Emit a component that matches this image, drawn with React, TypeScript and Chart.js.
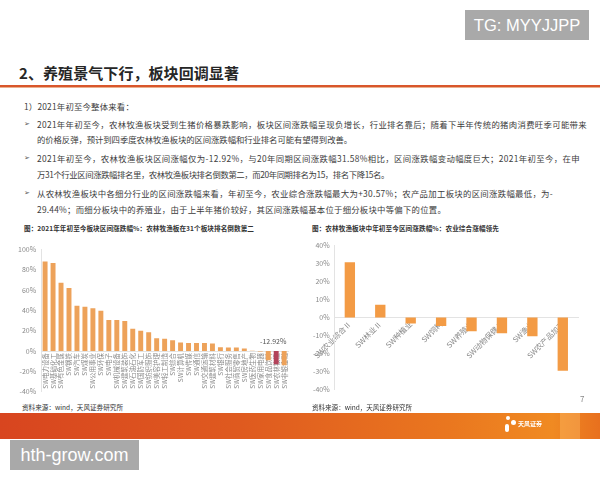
import React, { useEffect, useLayoutEffect, useRef } from "react";
import { Chart, registerables } from "chart.js";

Chart.register(...registerables);

const leftCategories = [
  "SW电力设备", "SW基础化工", "SW有色金属", "SW钢铁", "SW汽车", "SW煤炭", "SW公用事业", "SW环保",
  "SW电子", "SW机械设备", "SW建筑装饰", "SW石油石化", "SW国防军工", "SW纺织服饰", "SW美容护理",
  "SW轻工制造", "SW综合", "SW计算机", "SW传媒", "SW通信", "SW交通运输", "SW建筑材料", "SW银行",
  "SW社会服务", "SW商贸零售", "SW房地产", "SW医药生物", "SW家用电器", "SW食品饮料", "SW农林牧渔", "SW非银金融",
];
const leftValues = [
  88, 86.5, 67, 62, 44.5, 43.5, 42, 39.5, 30.5, 30.5, 29.5, 22, 20, 18.5, 12.5, 12, 10.5,
  8.5, 8, 8, 8, 7.5, 3.8, 3.5, 3.5, 2.5, 0.3, -0.5, -9, -12.92, -14,
];
const highlightCategory = "SW农林牧渔";
const highlightLabel = "-12.92%";

const rightCategories = [
  "SW农业综合Ⅱ", "SW林业Ⅱ", "SW种植业", "SW饲料", "SW养殖业", "SW动物保健Ⅱ", "SW渔业", "SW农产品加工",
];
const rightValues = [30.57, 7, -3.3, -4.7, -7.6, -8.7, -10.4, -29.44];

const leftTicks = { min: -40, max: 100, step: 20 };
const rightTicks = { min: -40, max: 40, step: 10 };

const FONT = "'Noto Sans CJK SC', 'Noto Sans', sans-serif";

function BarChart(props: {
  labels: string[];
  values: number[];
  colors: string[];
  ticks: { min: number; max: number; step: number };
  width: number;
  height: number;
  rotation: number;
  barPct: number;
  padding: any;
  tickFont: number;
  annotate?: { index: number; text: string };
}) {
  const ref = useRef<HTMLCanvasElement | null>(null);
  useEffect(() => {
    if (!ref.current) return;
    const annotate = props.annotate;
    const labelPlugin = {
      id: "lbl",
      afterDatasetsDraw(chart: any) {
        if (!annotate) return;
        const meta = chart.getDatasetMeta(0);
        const el = meta.data[annotate.index];
        const ctx = chart.ctx;
        const y0 = chart.scales.y.getPixelForValue(0);
        ctx.save();
        ctx.fillStyle = "#555";
        ctx.font = `7px ${FONT}`;
        ctx.textAlign = "center";
        ctx.textBaseline = "bottom";
        ctx.fillText(annotate.text, el.x - 3, y0 - 6);
        ctx.restore();
      },
    };
    const chart = new Chart(ref.current, {
      type: "bar",
      data: {
        labels: props.labels,
        datasets: [
          {
            data: props.values,
            backgroundColor: props.colors,
            barPercentage: props.barPct,
            categoryPercentage: 1,
          },
        ],
      },
      options: {
        responsive: false,
        animation: false,
        maintainAspectRatio: false,
        layout: { padding: props.padding },
        plugins: { legend: { display: false }, tooltip: { enabled: false } },
        scales: {
          x: {
            position: { y: 0 } as any,
            grid: { display: false, drawTicks: false },
            border: { display: true, color: "#e3e3e3", width: 1 },
            ticks: {
              autoSkip: false,
              maxRotation: props.rotation,
              minRotation: props.rotation,
              padding: 2,
              color: "#8a8a8a",
              font: { size: props.tickFont, family: FONT },
            },
          },
          y: {
            min: props.ticks.min,
            max: props.ticks.max,
            grid: { display: false, drawTicks: false },
            border: { display: true, color: "#e3e3e3", width: 1 },
            ticks: {
              stepSize: props.ticks.step,
              padding: 5,
              color: "#8a8a8a",
              font: { size: 7, family: FONT },
              callback: (v: any) => `${v}%`,
            },
          },
        },
      },
      plugins: [labelPlugin],
    });
    return () => chart.destroy();
  }, []);
  return <canvas ref={ref} width={props.width} height={props.height} style={{ width: props.width, height: props.height, display: "block" }} />;
}

function FitLine(p: { x: number; y: number; end: number; text: string; size: number; bold?: boolean; color?: string }) {
  const ref = useRef<HTMLSpanElement | null>(null);
  useLayoutEffect(() => {
    const el = ref.current;
    if (!el) return;
    el.style.letterSpacing = "0px";
    const w = el.getBoundingClientRect().width;
    const n = Array.from(p.text).length;
    el.style.letterSpacing = `${(p.end - p.x - w) / n}px`;
  }, []);
  return (
    <span
      ref={ref}
      style={{
        position: "absolute",
        left: p.x,
        top: p.y - p.size * 0.7,
        fontFamily: FONT,
        fontSize: p.size,
        fontWeight: p.bold ? 700 : 400,
        color: p.color || "#3c3c3c",
        lineHeight: `${Math.round(p.size * 1.4)}px`,
        whiteSpace: "nowrap",
      }}
    >
      {p.text}
    </span>
  );
}

function Bullet(p: { y: number }) {
  return (
    <div style={{ position: "absolute", left: 24, top: p.y - 6, fontFamily: "'DejaVu Sans', sans-serif", fontSize: 7, lineHeight: "12px", color: "#555" }}>➢</div>
  );
}

const BODY = 8.4;

export default function App() {
  const leftColors = leftCategories.map((c) => (c === highlightCategory ? "#b3435a" : "#eda25a"));
  const rightColors = rightCategories.map(() => "#f39b45");
  return (
    <div style={{ position: "absolute", left: 0, top: 0, width: 600, height: 480, background: "#fff", overflow: "hidden" }}>
      <div style={{ position: "absolute", left: 465, top: 10, width: 124, height: 30, background: "#a9a9a9", color: "#fff", fontFamily: "'Liberation Sans', Arial, sans-serif", fontSize: 16.5, lineHeight: "30px", textAlign: "center" }}>TG: MYYJJPP</div>

      <FitLine x={19} y={72} end={239} size={15} bold color="#262626" text="2、养殖景气下行，板块回调显著" />
      <div style={{ position: "absolute", left: 0, top: 85, width: 600, height: 2, background: "#d9562b" }} />
      <div style={{ position: "absolute", left: 0, top: 87, width: 600, height: 1, background: "#eab090" }} />

      <FitLine x={24} y={106} end={134} size={BODY} text="1）2021年初至今整体来看：" />
      <Bullet y={124} />
      <FitLine x={37} y={124} end={587} size={BODY} text="2021年年初至今，农林牧渔板块受到生猪价格暴跌影响，板块区间涨跌幅呈现负增长，行业排名靠后；随着下半年传统的猪肉消费旺季可能带来" />
      <FitLine x={37} y={139} end={352} size={BODY} text="的价格反弹，预计到四季度农林牧渔板块的区间涨跌幅和行业排名可能有望得到改善。" />
      <Bullet y={158} />
      <FitLine x={37} y={158} end={580} size={BODY} text="2021年初至今，农林牧渔板块区间涨幅仅为-12.92%，与20年同期区间涨跌幅31.58%相比，区间涨跌幅变动幅度巨大；2021年初至今，在申" />
      <FitLine x={37} y={174} end={389} size={BODY} text="万31个行业区间涨跌幅排名里，农林牧渔板块排名倒数第二，而20年同期排名为15，排名下降15名。" />
      <Bullet y={193} />
      <FitLine x={37} y={193} end={553} size={BODY} text="从农林牧渔板块中各细分行业的区间涨跌幅来看，年初至今，农业综合涨跌幅最大为+30.57%；农产品加工板块的区间涨跌幅最低，为-" />
      <FitLine x={37} y={209} end={446} size={BODY} text="29.44%；而细分板块中的养殖业，由于上半年猪价较好，其区间涨跌幅基本位于细分板块中等偏下的位置。" />

      <FitLine x={24} y={229} end={254} size={6.6} bold color="#333" text="图：2021年年初至今板块区间涨跌幅%：农林牧渔板在31个板块排名倒数第二" />
      <FitLine x={312} y={229} end={499} size={6.6} bold color="#333" text="图：农林牧渔板块中年初至今区间涨跌幅%：农业综合涨幅领先" />

      <div style={{ position: "absolute", left: 13, top: 240 }}>
        <BarChart
          labels={leftCategories}
          values={leftValues}
          colors={leftColors}
          ticks={leftTicks}
          width={281}
          height={161}
          rotation={90}
          barPct={0.62}
          padding={{ top: 2, bottom: 2, left: 0, right: 2 }}
          tickFont={6.5}
          annotate={{ index: leftCategories.indexOf(highlightCategory), text: highlightLabel }}
        />
      </div>
      <div style={{ position: "absolute", left: 308, top: 236 }}>
        <BarChart
          labels={rightCategories}
          values={rightValues}
          colors={rightColors}
          ticks={rightTicks}
          width={278}
          height={163}
          rotation={45}
          barPct={0.34}
          padding={{ top: 2, bottom: 2, left: 0, right: 8 }}
          tickFont={7.5}
        />
      </div>

      <FitLine x={22} y={408} end={123} size={6.6} color="#333" text="资料来源：wind，天风证券研究所" />
      <FitLine x={312} y={408} end={412} size={6.6} color="#333" text="资料来源：wind，天风证券研究所" />
      <div style={{ position: "absolute", left: 580, top: 393, fontFamily: FONT, fontSize: 8, color: "#888" }}>7</div>

      <div style={{ position: "absolute", left: 0, top: 413, width: 600, height: 26, background: "linear-gradient(90deg, #d8451f 0%, #df5a1f 40%, #ea771f 75%, #f08a22 92%, #e8701e 100%)" }} />
      <div style={{ position: "absolute", left: 560, top: 413, width: 20, height: 26, background: "rgba(255,200,120,0.35)" }} />
      <div style={{ position: "absolute", left: 506, top: 416, width: 4, height: 4, borderRadius: 2, background: "#fff" }} />
      <div style={{ position: "absolute", left: 511, top: 420, width: 5, height: 5, borderRadius: 3, background: "#fff" }} />
      <div style={{ position: "absolute", left: 505, top: 424, width: 4, height: 8, borderRadius: 2, background: "#fff" }} />
      <div style={{ position: "absolute", left: 518, top: 419, fontFamily: FONT, fontWeight: 700, fontSize: 6, color: "#fff", whiteSpace: "nowrap" }}>天风证券</div>

      <div style={{ position: "absolute", left: 10, top: 440, width: 129, height: 30, background: "#a9a9a9", color: "#fff", fontFamily: "'Liberation Sans', Arial, sans-serif", fontSize: 18, lineHeight: "30px", textAlign: "center" }}>hth-grow.com</div>
    </div>
  );
}
